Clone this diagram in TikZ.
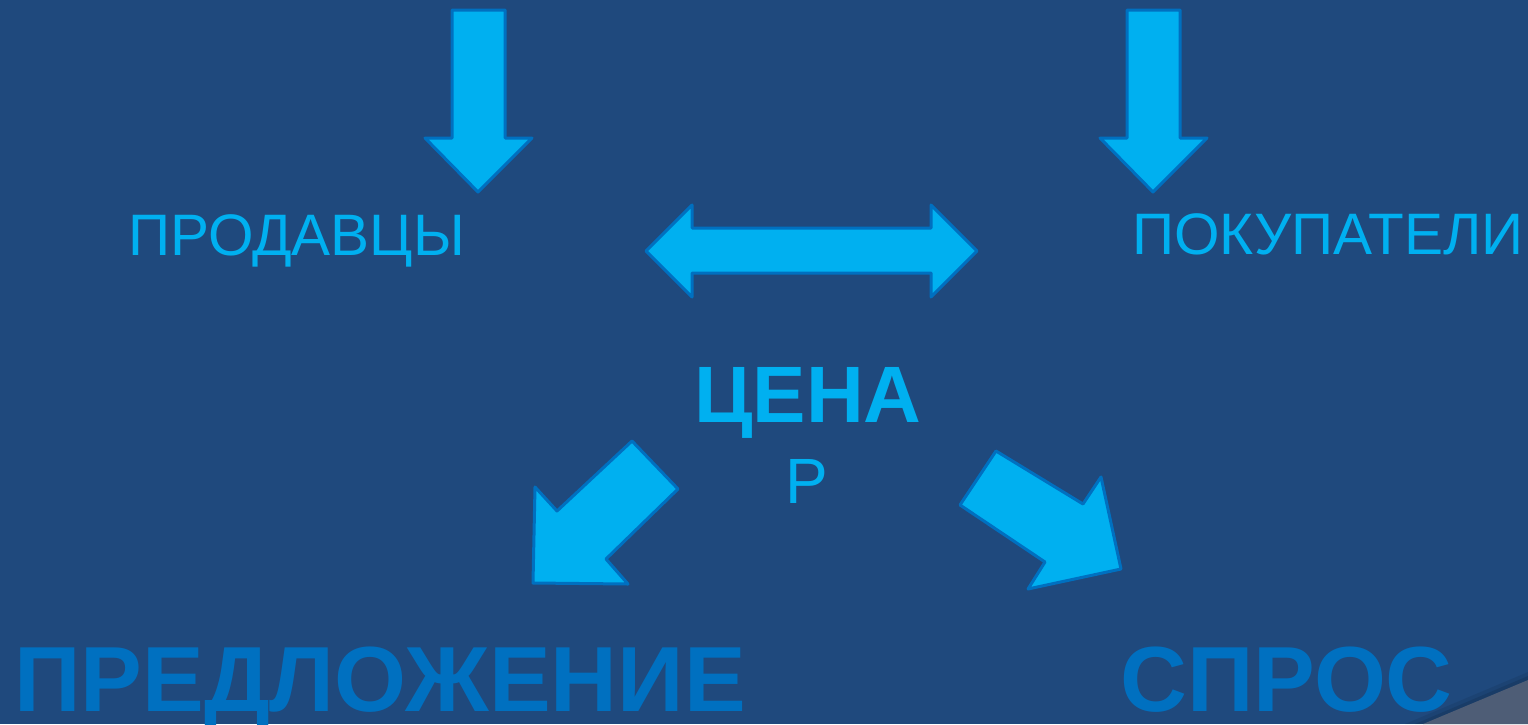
\documentclass[tikz,border=0pt]{standalone}
\usepackage{fontspec}
\setmainfont{Liberation Sans}
\definecolor{color_back}{RGB}{31,73,125}
\definecolor{color_fill}{RGB}{0,176,240}
\definecolor{color_line}{RGB}{0,112,192}
\definecolor{color_corner}{RGB}{78,93,118}
\tikzset{
  blockarrow/.style={fill=color_fill, draw=color_line, line width=3pt, line join=round},
  lighttext/.style={text=color_fill, inner sep=0pt, font=\fontsize{58.5}{58.5}\selectfont},
  pricetext/.style={text=color_fill, inner sep=0pt, font=\bfseries\fontsize{80}{80}\selectfont},
  bigtext/.style={text=color_line, inner sep=0pt, font=\bfseries\fontsize{92.5}{92.5}\selectfont}}

\begin{document}
\begin{tikzpicture}[x=1pt, y=-1pt]
\fill[color_back] (0,0) rectangle (1528,724);
\useasboundingbox (0,0) rectangle (1528,724);
% CORNER
\fill[black, opacity=0.08] (1405,724) -- (1528,672) -- (1528,724) -- cycle;
\fill[black, opacity=0.10] (1415,724) -- (1528,676) -- (1528,724) -- cycle;
\fill[color_corner] (1423,724) -- (1528,680) -- (1528,724) -- cycle;
% ARROWS
\draw[blockarrow] (452,10) -- (505,10) -- (505,138) -- (532,138) -- (478,192)
  -- (425,138) -- (452,138) -- cycle;
\draw[blockarrow] (1127,10) -- (1180,10) -- (1180,138) -- (1207,138) -- (1153,192)
  -- (1100,138) -- (1127,138) -- cycle;
\draw[blockarrow] (646,251) -- (692,205) -- (692,228) -- (931,228) -- (931,205)
  -- (977,251) -- (931,297) -- (931,273) -- (692,273) -- (692,297) -- cycle;
\draw[blockarrow] (632,441) -- (678,489) -- (606,559) -- (628,584) -- (533,583)
  -- (535,487) -- (557,511) -- cycle;
\draw[blockarrow] (996,451) -- (1083,504) -- (1101,477) -- (1121,569) -- (1028,589)
  -- (1045,562) -- (960,505) -- cycle;
% TEXTS
\node[lighttext, anchor=base west] (sellers) at (128,255) {ПРОДАВЦЫ};
\node[lighttext, anchor=base west] (buyers) at (1132,254) {ПОКУПАТЕЛИ};
\node[pricetext, anchor=base] (price) at (808,422) {ЦЕНА};
\node[lighttext, anchor=base, font=\fontsize{64}{64}\selectfont] (pricesym) at (807,503) {Р};
\node[bigtext, anchor=base west] (supply) at (14,711) {ПРЕДЛОЖЕНИЕ};
\node[bigtext, anchor=base west] (demand) at (1120,711) {СПРОС};
\end{tikzpicture}
\end{document}
